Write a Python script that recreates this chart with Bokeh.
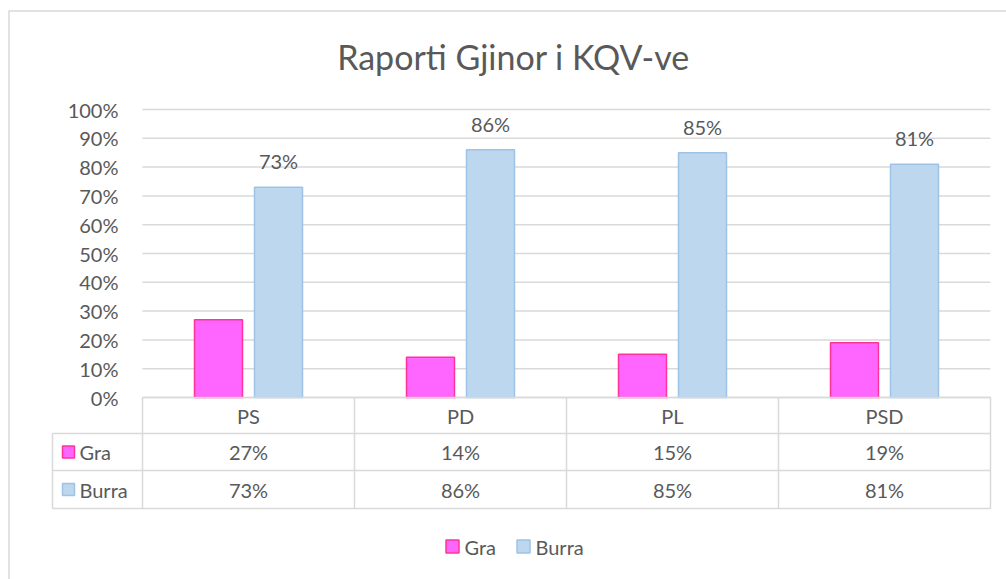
from bokeh.plotting import figure
from bokeh.models import ColumnDataSource, Range1d
from bokeh.core.properties import value
from bokeh.embed import file_html
from bokeh.resources import INLINE

# ---- data ----
title = "Raporti Gjinor i KQV-ve"
categories = ["PS", "PD", "PL", "PSD"]
series_names = ["Gra", "Burra"]
gra = [0.27, 0.14, 0.15, 0.19]
burra = [0.73, 0.86, 0.85, 0.81]
y_ticks = [0.0, 0.1, 0.2, 0.3, 0.4, 0.5, 0.6, 0.7, 0.8, 0.9, 1.0]

# ---- style ----
FONT = "Lato"
TXT = "#595959"
GRID = "#d9d9d9"
PINK_FILL, PINK_LINE = "#ff66ff", "#ff3399"
BLUE_FILL, BLUE_LINE = "#bdd7ee", "#9dc3e6"
FS = "20px"

W, H = 1006, 579
PAGE = 0
# page-pixel -> data mapping (category unit = 212 px, 100% = 288 px)
X0, XS = 142, 212.0
Y0, YS = 397, 288.0
def X(px):
    return (px - X0) / XS
def Y(py):
    return (Y0 - py) / YS

p = figure(width=W, height=H, output_backend="svg", toolbar_location=None,
           x_range=Range1d(X(PAGE), X(PAGE + W)), y_range=Range1d(Y(PAGE + H), Y(PAGE)),
           x_axis_location=None, y_axis_location=None, min_border=0,
           background_fill_color="white", border_fill_color="white")
p.grid.visible = False
p.outline_line_color = None

n = len(categories)

# chart border (top and left)
p.segment(x0=[X(8), X(8.5)], y0=[Y(10.5), Y(10.5)], x1=[X(PAGE + W), X(8.5)], y1=[Y(10.5), Y(PAGE + H)],
          line_color=GRID, line_width=1.5)

# gridlines
p.segment(x0=[0] * len(y_ticks), x1=[n] * len(y_ticks), y0=y_ticks, y1=y_ticks,
          line_color=GRID, line_width=1.5)
# y tick labels
p.text(x=[X(118)] * len(y_ticks), y=y_ticks, text=[f"{int(round(t*100))}%" for t in y_ticks],
       text_align="right", text_baseline="middle", text_font=value(FONT),
       text_font_size=FS, text_color=TXT)

# bars
bw = 48 / XS
off = 30 / XS
xs = [i + 0.5 for i in range(n)]
src = ColumnDataSource(dict(
    xg=[x - off for x in xs], xb=[x + off for x in xs],
    gra=gra, burra=burra,
    blab=[f"{int(round(v*100))}%" for v in burra],
))
p.vbar(x="xg", top="gra", bottom=0, width=bw, source=src,
       fill_color=PINK_FILL, line_color=PINK_LINE, line_width=1.5)
p.vbar(x="xb", top="burra", bottom=0, width=bw, source=src,
       fill_color=BLUE_FILL, line_color=BLUE_LINE, line_width=1.5)
p.text(x="xb", y="burra", text="blab", source=src, text_align="center",
       text_baseline="middle", y_offset=-26, text_font=value(FONT),
       text_font_size=FS, text_color=TXT)

# data table
r0, r1, r2, r3 = 0.0, Y(433), Y(470), Y(508)
xl = X(52)
hx0 = [0, xl, xl, xl]
hx1 = [n, n, n, n]
hy = [r0, r1, r2, r3]
p.segment(x0=hx0, x1=hx1, y0=hy, y1=hy, line_color=GRID, line_width=1.5)
vx = list(range(n + 1))
p.segment(x0=vx, x1=vx, y0=[r0] * (n + 1), y1=[r3] * (n + 1), line_color=GRID, line_width=1.5)
p.segment(x0=[xl], x1=[xl], y0=[r1], y1=[r3], line_color=GRID, line_width=1.5)

p.text(x=xs, y=[(r0 + r1) / 2] * n, text=categories, text_align="center", text_baseline="middle",
       text_font=value(FONT), text_font_size=FS, text_color=TXT)
p.text(x=xs, y=[(r1 + r2) / 2] * n, text=[f"{int(round(v*100))}%" for v in gra],
       text_align="center", text_baseline="middle",
       text_font=value(FONT), text_font_size=FS, text_color=TXT)
p.text(x=xs, y=[(r2 + r3) / 2] * n, text=[f"{int(round(v*100))}%" for v in burra],
       text_align="center", text_baseline="middle",
       text_font=value(FONT), text_font_size=FS, text_color=TXT)

# table row legend keys
row_y = [(r1 + r2) / 2, (r2 + r3) / 2]
p.rect(x=[X(68)] * 2, y=row_y, width=12, height=12, width_units="screen", height_units="screen",
       fill_color=[PINK_FILL, BLUE_FILL], line_color=[PINK_LINE, BLUE_LINE], line_width=1.5)
p.text(x=[X(79)] * 2, y=row_y, text=series_names, text_align="left", text_baseline="middle",
       text_font=value(FONT), text_font_size=FS, text_color=TXT)

# bottom legend
ly = Y(546)
p.rect(x=[X(452), X(523)], y=[ly, ly], width=13, height=13, width_units="screen", height_units="screen",
       fill_color=[PINK_FILL, BLUE_FILL], line_color=[PINK_LINE, BLUE_LINE], line_width=1.5)
p.text(x=[X(464), X(535)], y=[ly, ly], text=series_names, text_align="left", text_baseline="middle",
       text_font=value(FONT), text_font_size=FS, text_color=TXT)

# title
p.text(x=[X(513)], y=[Y(56)], text=[title], text_align="center", text_baseline="middle",
       text_font=value(FONT), text_font_size="34px", text_color=TXT)

open("out.html", "w").write(file_html(p, INLINE))
